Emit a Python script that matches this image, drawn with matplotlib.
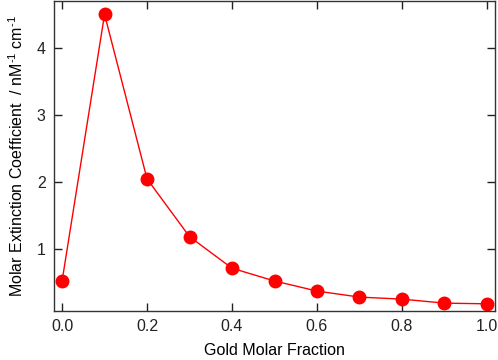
import matplotlib
matplotlib.use("Agg")
import matplotlib.pyplot as plt

plt.rcParams['font.family'] = ['Liberation Sans', 'DejaVu Sans']
plt.rcParams['mathtext.fontset'] = 'custom'
plt.rcParams['mathtext.rm'] = 'Liberation Sans'
plt.rcParams['mathtext.it'] = 'Liberation Sans'
plt.rcParams['mathtext.bf'] = 'Liberation Sans'

gold_fraction = [0.0, 0.1, 0.2, 0.3, 0.4, 0.5, 0.6, 0.7, 0.8, 0.9, 1.0]
extinction = [0.53, 4.50, 2.05, 1.19, 0.72, 0.53, 0.38, 0.29, 0.26, 0.20, 0.19]
extinction_err = [0.0, 0.09, 0.0, 0.0, 0.0, 0.0, 0.0, 0.0, 0.0, 0.0, 0.0]
xticks = [0.0, 0.2, 0.4, 0.6, 0.8, 1.0]
xticklabels = ['0.0', '0.2', '0.4', '0.6', '0.8', '1.0']
yticks = [1, 2, 3, 4]

fig = plt.figure(figsize=(4.98, 3.6), dpi=100)
ax = fig.add_axes([54/498, 1-311/360, (495-54)/498, (311-1)/360])

ax.errorbar(gold_fraction, extinction, yerr=extinction_err, color='#ff0000',
            lw=1.0, marker='o', ms=9, elinewidth=1.5, capsize=0)

ax.set_xlim(-0.019, 1.019)
ax.set_ylim(0.083, 4.70)
ax.set_xticks(xticks)
ax.set_xticklabels(xticklabels)
ax.set_yticks(yticks)
ax.tick_params(direction='in', length=5.5, width=1, top=True, right=True,
               labeltop=False, labelright=False, labelsize=11.5, colors='#222222',
               pad=6)
for s in ax.spines.values():
    s.set_linewidth(1.0)
    s.set_color('#333333')

ax.set_xlabel('Gold Molar Fraction', fontsize=11.5, labelpad=6)
ax.set_ylabel(r'Molar Extinction Coefficient  / nM$^{\text{-1}}$ cm$^{\text{-1}}$',
              fontsize=11.5, labelpad=8)

fig.savefig('out.png', dpi=100)
